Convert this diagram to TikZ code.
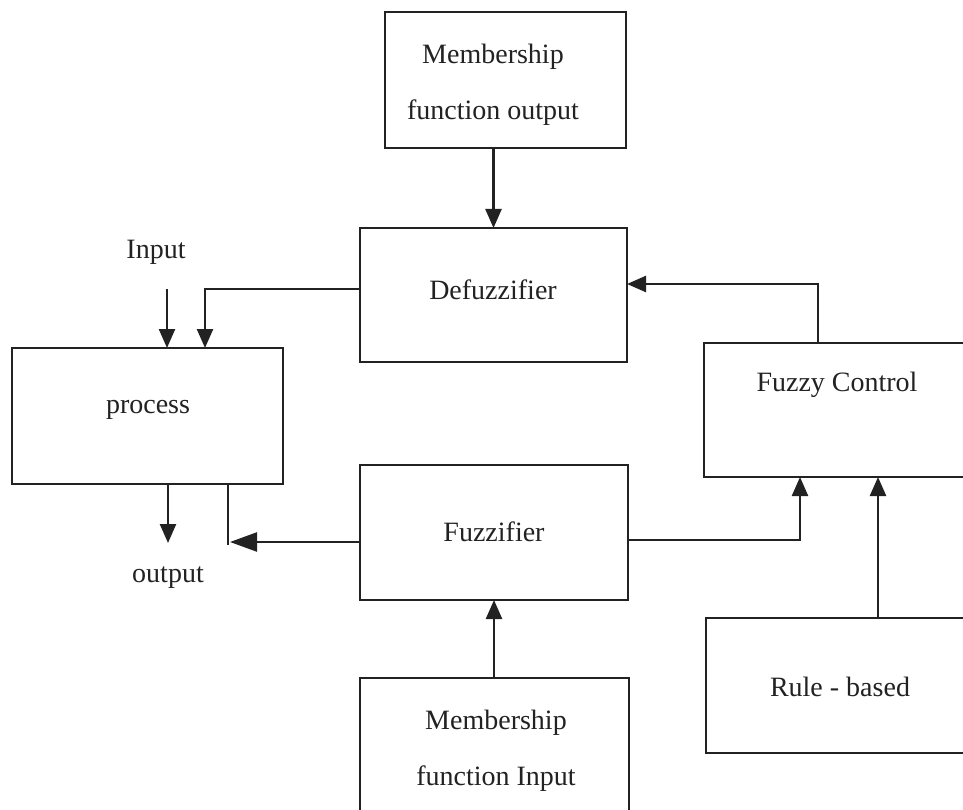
\documentclass[tikz,border=0pt]{standalone}
\usepackage{fontspec}
\setmainfont{Liberation Serif}
\usetikzlibrary{arrows.meta}
\definecolor{ink}{HTML}{222222}
\begin{document}
\begin{tikzpicture}[x=1pt,y=-1pt,
  box/.style={draw=ink,line width=2.4pt,rectangle,inner sep=0pt,outer sep=0pt,anchor=north west},
  lbl/.style={text=ink,font=\fontsize{28}{56}\selectfont,align=center,inner sep=0pt},
  link/.style={draw=ink,line width=2.4pt},
  arr/.style={link,-{Triangle[length=19pt,width=16pt]}},
  bigarr/.style={link,-{Triangle[length=27pt,width=19pt]}}]
\useasboundingbox (0,0) rectangle (963,810);
\clip (0,0) rectangle (963,810);
\fill[white] (0,0) rectangle (963,810);

% blocks
\node[box,minimum width=241pt,minimum height=136pt] (mfo) at (385,12) {};
\node[box,minimum width=267pt,minimum height=134pt] (defuzz) at (360,228) {};
\node[box,minimum width=271pt,minimum height=136pt] (process) at (12,348) {};
\node[box,minimum width=270pt,minimum height=134pt] (fc) at (704,343) {};
\node[box,minimum width=268pt,minimum height=135pt] (fuzz) at (360,465) {};
\node[box,minimum width=269pt,minimum height=150pt] (mfi) at (360,678) {};
\node[box,minimum width=270pt,minimum height=135pt] (rule) at (706,618) {};

% texts
\node[lbl] (tmfo) at (493,85) {Membership\\function output};
\node[lbl] (tdef) at (493,290) {Defuzzifier};
\node[lbl] (tproc) at (148,410) {process};
\node[lbl] (tfc) at (837,385) {Fuzzy Control};
\node[lbl] (tfuzz) at (494,532) {Fuzzifier};
\node[lbl] (tmfi) at (496,751) {Membership\\function Input};
\node[lbl] (trule) at (840,687) {Rule - based};
\node[lbl] (input) at (156,252) {Input};
\node[lbl] (output) at (168,578) {output};

% bend and end points of the connectors
\coordinate (inS) at (167,289);
\coordinate (dfL) at (205,289);
\coordinate (outE) at (168,543);
\coordinate (tap) at (228,542);
\coordinate (tapTop) at (228,485);
\coordinate (fzR) at (800,540);
\coordinate (fcT) at (818,284);
\coordinate (ruleX) at (878,0);

% connectors
\draw[arr] (mfo.south -| defuzz.north) -- (defuzz.north);
\draw[arr] (defuzz.west |- dfL) -- (dfL) -- (dfL |- process.north);
\draw[arr] (inS) -- (inS |- process.north);
\draw[arr] (process.south -| outE) -- (outE);
\draw[link] (tapTop) -- ([yshift=-3pt]tap);
\draw[bigarr] (fuzz.west |- tap) -- ([xshift=2pt]tap);
\draw[arr] (fuzz.east |- fzR) -- (fzR) -- (fzR |- fc.south);
\draw[arr] (rule.north -| ruleX) -- (fc.south -| ruleX);
\draw[arr] (fc.north -| fcT) -- (fcT) -- (defuzz.east |- fcT);
\draw[arr] (mfi.north -| fuzz.south) -- (fuzz.south);
\end{tikzpicture}
\end{document}
